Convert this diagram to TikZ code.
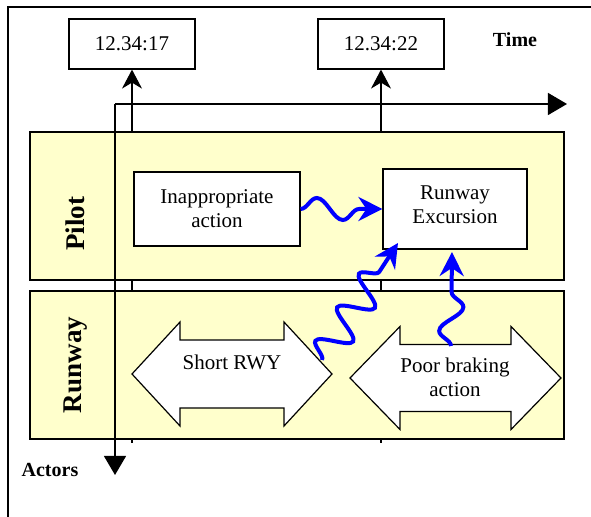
\documentclass[tikz,border=0pt]{standalone}
\usepackage{fontspec}
\setmainfont{Liberation Serif}
\usetikzlibrary{arrows.meta,decorations.pathmorphing}
\definecolor{laneyellow}{HTML}{FFFFCC}
\def\dblarrow[#1](#2,#3)(#4:#5:#6:#7){\draw[#1] (#2-#4,#3) -- (#2-#4+#5,#3-#7) -- (#2-#4+#5,#3-#6) -- (#2+#4-#5,#3-#6) -- (#2+#4-#5,#3-#7) -- (#2+#4,#3) -- (#2+#4-#5,#3+#7) -- (#2+#4-#5,#3+#6) -- (#2-#4+#5,#3+#6) -- (#2-#4+#5,#3+#7) -- cycle;}
\tikzset{
	lane/.style={draw, line width=0.6pt, fill=laneyellow},
	lanelabel/.style={rotate=90, font=\bfseries\fontsize{13.5}{16}\selectfont},
	eventbox/.style={draw, fill=white, line width=0.6pt, align=center, inner sep=0pt},
	timebox/.style={draw, fill=white, line width=0.6pt, inner sep=0pt, minimum width=63pt, minimum height=25pt},
	timeline/.style={line width=0.6pt, -{Stealth[length=9.5pt,width=10pt,inset=3pt]}},
	axis/.style={line width=0.6pt, -{Triangle[length=9.5pt,width=11pt]}},
	headarrow/.style={draw, fill=white, line width=0.6pt},
	wavy/.style={blue, line width=2pt, decorate, -{Stealth[length=12pt,width=12pt,inset=4pt]}},
}

\begin{document}
\begin{tikzpicture}[x=0.5pt, y=-0.5pt, font=\fontsize{10.5}{12}\selectfont]
		%%%%% START %%%%%
		\useasboundingbox (0,0) rectangle (591,517);
		
		\draw[line width=0.6pt] (8,517) -- (8,7) -- (591,7);
		
		% time stamps
		\node[timebox] (t1) at (132,44) {12.34:17};
		\node[timebox] (t2) at (381,44) {12.34:22};
		\coordinate (t1foot) at (132,443);
		\coordinate (t2foot) at (381,443);
		\draw[timeline] (t1foot) -- (t1.south);
		\draw[timeline] (t2foot) -- (t2.south);
		
		% lanes
		\draw[lane] (30,132) rectangle (564,280);
		\draw[lane] (30,291) rectangle (564,439);
		\node[lanelabel] (pilot) at (75,224) {Pilot};
		\node[lanelabel] (runway) at (76,365) {Runway};
		
		% axes
		\coordinate (origin) at (115,104);
		\coordinate (timeend) at (567,104);
		\coordinate (actorend) at (115,475);
		\draw[axis] (origin) -- (timeend);
		\draw[axis] (origin) -- (actorend);
		\node[font=\bfseries] (timelbl) at (515,40) {Time};
		\node[font=\bfseries] (actorlbl) at (50,470) {Actors};
		
		% events
		\node[eventbox, minimum width=83pt, minimum height=37pt] (inapp) at (217,209) {Inappropriate\\action};
		\node[eventbox, minimum width=72pt, minimum height=40pt] (exc) at (455,209) {};
		\node[align=center] (exctext) at (455,205) {Runway\\Excursion};
		
		% conditions
		\dblarrow[headarrow](232,374)(100:48:34:52);
		\node (shortrwy) at (232,362) {Short RWY};
		\dblarrow[headarrow](455.5,378)(105.5:50:33.5:51.5);
		\node[align=center] (braking) at (455,377) {Poor braking\\action};
		
		% influences
		\coordinate (rwyout) at (322,360);
		\coordinate (excin2) at (398,243);
		\coordinate (brkout) at (451,346);
		\coordinate (excin3) at (452,252);
		\draw[wavy, decoration={snake, amplitude=5.5pt, segment length=26pt, post length=10pt}] (inapp.east) -- (exc.west);
		\draw[wavy, decoration={snake, amplitude=8pt, segment length=20pt, post length=10pt}] (rwyout) -- (excin2);
		\draw[wavy, decoration={snake, amplitude=6pt, segment length=24pt, post length=10pt}] (brkout) -- (excin3);
		
		%%%%% END %%%%%
	\end{tikzpicture}
\end{document}
